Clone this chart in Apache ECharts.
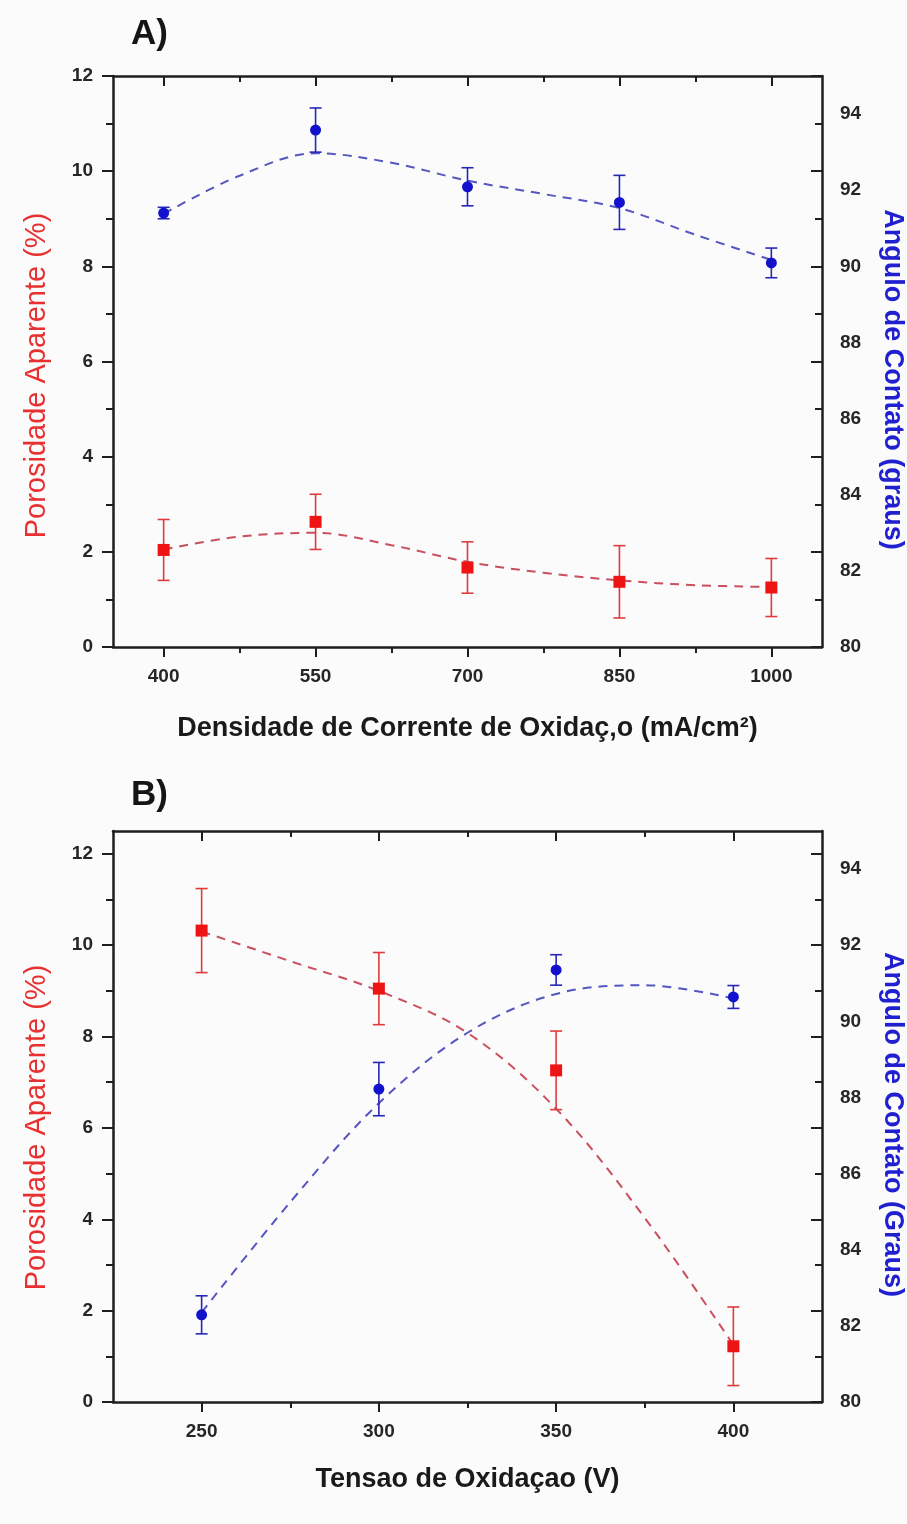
<!DOCTYPE html>
<html>
<head>
<meta charset="utf-8">
<script src="https://cdn.jsdelivr.net/npm/echarts@6/dist/echarts.min.js"></script>
<style>
html,body{margin:0;padding:0;background:#fbfbfb;}
#chart{width:907px;height:1524px;}
</style>
</head>
<body>
<div id="chart"></div>
<script>
// ---------- Panel A data ----------
const xA = [400, 550, 700, 850, 1000];
const porA = [2.04, 2.63, 1.67, 1.37, 1.25];
const porErrA = [0.64, 0.58, 0.54, 0.76, 0.61];
const angA = [91.40, 93.58, 92.09, 91.68, 90.09];
const angErrA = [0.15, 0.58, 0.50, 0.71, 0.39];
const fitXA = [400, 475, 550, 625, 700, 775, 850, 925, 1000];
const porFitA = [2.05, 2.32, 2.40, 2.14, 1.79, 1.56, 1.40, 1.30, 1.26];
const angFitA = [91.38, 92.38, 92.97, 92.72, 92.25, 91.90, 91.53, 90.83, 90.17];
const xTicksA = [400, 550, 700, 850, 1000];
const xMinorA = [475, 625, 775, 925];

// ---------- Panel B data ----------
const xB = [250, 300, 350, 400];
const porB = [10.32, 9.05, 7.26, 1.22];
const porErrB = [0.92, 0.79, 0.86, 0.86];
const angB = [82.29, 88.22, 91.35, 90.64];
const angErrB = [0.50, 0.70, 0.40, 0.30];
const fitXB = [250, 275, 300, 325, 350, 375, 400];
const porFitB = [10.30, 9.65, 9.00, 8.08, 6.42, 4.03, 1.25];
const angFitB = [82.35, 85.25, 87.85, 89.70, 90.72, 90.95, 90.60];
const xTicksB = [250, 300, 350, 400];
const xMinorB = [275, 325, 375];

// ---------- shared tick labels ----------
const yTicksL = [0, 2, 4, 6, 8, 10, 12];
const yMinorL = [1, 3, 5, 7, 9, 11];
const yTicksR = [80, 82, 84, 86, 88, 90, 92, 94];

const titles = ['A)', 'B)'];
const xNames = ['Densidade de Corrente de Oxidaç‚o (mA/cm²)', 'Tensao de Oxidaçao (V)'];
const leftName = 'Porosidade Aparente (%)';
const rightNames = ['Angulo de Contato (graus)', 'Angulo de Contato (Graus)'];

const FONT = '"Liberation Sans", Arial, Helvetica, sans-serif';
const AX = '#1e1e1e';
const RED = '#ee1414';
const RED_ERR = '#e03a3a';
const RED_FIT = '#c8505f';
const BLUE = '#1212cc';
const BLUE_ERR = '#2626b8';
const BLUE_FIT = '#5656c0';

const labelStyle = {fontFamily: FONT, fontSize: 19, fontWeight: 'bold', color: '#262626', formatter: v => String(v)};

function axisBase(extra) {
  return Object.assign({
    type: 'value',
    splitLine: {show: false},
    axisLine: {show: false, onZero: false, lineStyle: {color: AX, width: 2.5}},
    axisLabel: {show: false},
    axisTick: {show: false}
  }, extra);
}
function ticks(values, len, inside) {
  return {show: true, customValues: values, length: len, inside: inside, lineStyle: {color: AX, width: 2}};
}
function line() { return {show: true, onZero: false, lineStyle: {color: AX, width: 2.5}}; }

// per-panel layout tweaks: [xNameGap, leftPad, rightPad]
const nameCfg = [
  {xGap: 68, leftShift: 14, rightShift: 18},
  {xGap: 64, leftShift: 11, rightShift: 8}
];

function buildAxes(gi, xmin, xmax, xMaj, xMin, xName, ymaxL) {
  const c = nameCfg[gi];
  const xs = [
    axisBase({gridIndex: gi, position: 'bottom', min: xmin, max: xmax, axisLine: line(),
      axisTick: ticks(xMaj, 10, false),
      axisLabel: Object.assign({show: true, customValues: xMaj, margin: 20}, labelStyle),
      name: xName, nameLocation: 'middle', nameGap: c.xGap,
      nameTextStyle: {fontFamily: FONT, fontSize: 27, fontWeight: 'bold', color: '#1a1a1a'}}),
    axisBase({gridIndex: gi, position: 'bottom', min: xmin, max: xmax, axisTick: ticks(xMin, 6, false)}),
    axisBase({gridIndex: gi, position: 'top', min: xmin, max: xmax, axisLine: line(), axisTick: ticks(xMaj, 10, true)}),
    axisBase({gridIndex: gi, position: 'top', min: xmin, max: xmax, axisTick: ticks(xMin, 6, true)})
  ];
  const ys = [
    axisBase({gridIndex: gi, position: 'left', min: 0, max: ymaxL, axisLine: line(),
      axisTick: ticks(yTicksL, 11, false),
      axisLabel: Object.assign({show: true, customValues: yTicksL, margin: 20}, labelStyle),
      name: leftName, nameLocation: 'middle', nameGap: 62, nameRotate: 90,
      nameTextStyle: {fontFamily: FONT, fontSize: 29, fontWeight: 'normal', color: '#e83030',
        padding: [0, 2 * c.leftShift, 0, 0]}}),
    axisBase({gridIndex: gi, position: 'left', min: 0, max: ymaxL, axisTick: ticks(yMinorL, 7, false)}),
    axisBase({gridIndex: gi, position: 'right', min: 0, max: ymaxL, axisLine: line(), axisTick: ticks(yTicksL, 11, true)}),
    axisBase({gridIndex: gi, position: 'right', min: 0, max: ymaxL, axisTick: ticks(yMinorL, 7, true)}),
    axisBase({gridIndex: gi, position: 'right', min: 80, max: 95,
      axisLabel: Object.assign({show: true, customValues: yTicksR, margin: 18}, labelStyle),
      name: rightNames[gi], nameLocation: 'middle', nameGap: 57, nameRotate: -90,
      nameTextStyle: {fontFamily: FONT, fontSize: 27, fontWeight: 'bold', color: '#2020d0',
        padding: [0, 0, 0, 2 * c.rightShift]}})
  ];
  return {xs, ys};
}

function errSeries(xi, yi, xv, yv, ev, color) {
  return {
    type: 'custom', coordinateSystem: 'cartesian2d', xAxisIndex: xi, yAxisIndex: yi, z: 3,
    data: xv.map((x, i) => [x, yv[i] - ev[i], yv[i] + ev[i]]),
    encode: {x: 0, y: [1, 2]},
    silent: true,
    renderItem: function (params, api) {
      const x = api.value(0);
      const top = api.coord([x, api.value(2)]);
      const bot = api.coord([x, api.value(1)]);
      const w = 6;
      const st = {stroke: color, lineWidth: 1.6};
      return {type: 'group', children: [
        {type: 'line', shape: {x1: top[0], y1: top[1], x2: bot[0], y2: bot[1]}, style: st},
        {type: 'line', shape: {x1: top[0] - w, y1: top[1], x2: top[0] + w, y2: top[1]}, style: st},
        {type: 'line', shape: {x1: bot[0] - w, y1: bot[1], x2: bot[0] + w, y2: bot[1]}, style: st}
      ]};
    }
  };
}
function fitSeries(xi, yi, xv, yv, color) {
  return {
    type: 'line', xAxisIndex: xi, yAxisIndex: yi, z: 2, smooth: 0.35, showSymbol: false, silent: true,
    data: xv.map((x, i) => [x, yv[i]]),
    lineStyle: {color: color, width: 2, type: [9, 7]}
  };
}
function markSeries(xi, yi, xv, yv, color, symbol, size) {
  return {
    type: 'scatter', xAxisIndex: xi, yAxisIndex: yi, z: 4, symbol: symbol, symbolSize: size, silent: true,
    data: xv.map((x, i) => [x, yv[i]]),
    itemStyle: {color: color, opacity: 1}
  };
}

const A = buildAxes(0, 350, 1050, xTicksA, xMinorA, xNames[0], 12);
const B = buildAxes(1, 225, 425, xTicksB, xMinorB, xNames[1], 12.5);

const option = {
  backgroundColor: '#fbfbfb',
  animation: false,
  title: [
    {text: titles[0], left: 126, top: 12, textStyle: {fontFamily: FONT, fontSize: 35, fontWeight: 'bold', color: '#151515'}},
    {text: titles[1], left: 126, top: 773, textStyle: {fontFamily: FONT, fontSize: 35, fontWeight: 'bold', color: '#151515'}}
  ],
  grid: [
    {left: 113, top: 76, width: 709, height: 571, outerBoundsMode: 'none', containLabel: false},
    {left: 113, top: 831, width: 709, height: 571, outerBoundsMode: 'none', containLabel: false}
  ],
  xAxis: A.xs.concat(B.xs),
  yAxis: A.ys.concat(B.ys),
  series: [
    fitSeries(0, 0, fitXA, porFitA, RED_FIT),
    fitSeries(0, 4, fitXA, angFitA, BLUE_FIT),
    errSeries(0, 0, xA, porA, porErrA, RED_ERR),
    errSeries(0, 4, xA, angA, angErrA, BLUE_ERR),
    markSeries(0, 0, xA, porA, RED, 'rect', 12),
    markSeries(0, 4, xA, angA, BLUE, 'circle', 11),

    fitSeries(4, 5, fitXB, porFitB, RED_FIT),
    fitSeries(4, 9, fitXB, angFitB, BLUE_FIT),
    errSeries(4, 5, xB, porB, porErrB, RED_ERR),
    errSeries(4, 9, xB, angB, angErrB, BLUE_ERR),
    markSeries(4, 5, xB, porB, RED, 'rect', 12),
    markSeries(4, 9, xB, angB, BLUE, 'circle', 11)
  ]
};

const chart = echarts.init(document.getElementById('chart'), null, {renderer: 'canvas'});
chart.setOption(option);
</script>
</body>
</html>
